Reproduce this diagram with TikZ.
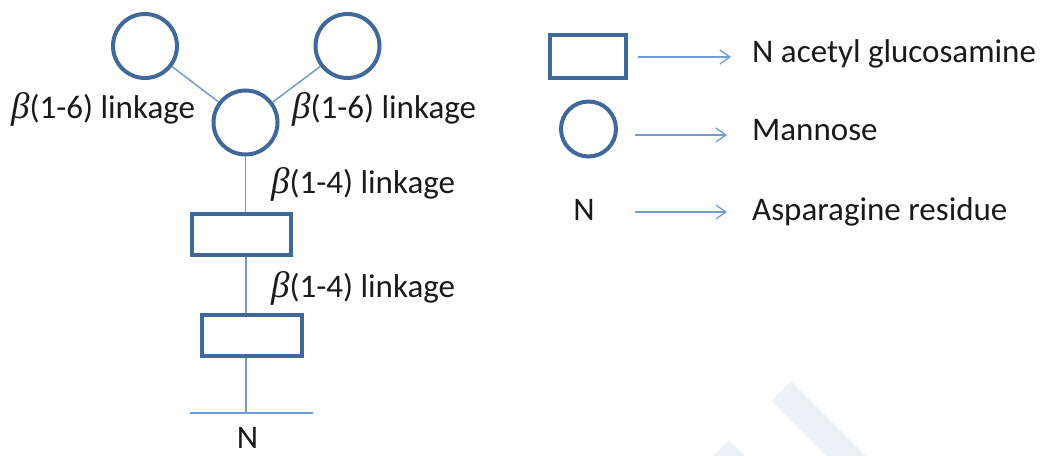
\documentclass[tikz,border=0pt]{standalone}
\usepackage{fontspec}
\setmainfont{Carlito}
\newfontfamily\betafont{Liberation Serif}[Scale=1.12]
\newcommand\bsym{{\betafont\itshape β}}
\usetikzlibrary{arrows.meta}
\definecolor{shapeblue}{HTML}{41689B}
\definecolor{linkblue}{HTML}{729BD1}
\definecolor{markfill}{HTML}{ECF1F8}
\definecolor{ink}{HTML}{1A1A1A}
\begin{document}
\begin{tikzpicture}[x=1pt,y=-1pt,
  sugar/.style={draw=shapeblue,line width=4pt,fill=white,inner sep=0pt},
  mannose/.style={sugar,circle,minimum size=64pt},
  glcnac/.style={sugar,rectangle,minimum width=99pt,minimum height=41pt},
  bond/.style={draw=linkblue,line width=1.5pt},
  key/.style={draw=linkblue,line width=1.3pt,-{Straight Barb[length=10pt,width=14pt]}},
  lbl/.style={text=ink,font=\fontsize{33}{40}\selectfont,inner sep=0pt,anchor=base west}]
\useasboundingbox (0,0) rectangle (1049,455);
% faint background mark
\begin{scope}
  \clip (0,0) rectangle (1049,455);
  \draw[markfill,line width=28pt] (781,391) -- (860,470);
  \draw[markfill,line width=28pt] (719,450) -- (745,476);
\end{scope}

% glycan core
\node[mannose] (m1) at (145,46) {};
\node[mannose] (m2) at (347.5,46) {};
\node[mannose] (m0) at (245.5,122.5) {};
\node[glcnac] (g1) at (241.5,234.5) {};
\node[glcnac,minimum width=100pt] (g2) at (252,335.5) {};
\coordinate (base) at (246,413);
\coordinate (bl) at (190,413);
\coordinate (br) at (313,413);

\draw[bond] (m0) -- (m1);
\draw[bond] (m0) -- (m2);
\draw[bond] (m0.south) -- (m0.south |- g1.north);
\draw[bond] (g1.south -| base) -- (g2.north -| base);
\draw[bond] (g2.south -| base) -- (base);
\draw[bond] (bl) -- (br);

\node[lbl,anchor=base] (asn) at (247.5,448) {N};
\node[lbl] (l16a) at (11,118) {\bsym(1-6) linkage};
\node[lbl] (l16b) at (292,118) {\bsym(1-6) linkage};
\node[lbl] (l14a) at (271,193) {\bsym(1-4) linkage};
\node[lbl] (l14b) at (271,297) {\bsym(1-4) linkage};

% key
\node[glcnac,minimum width=76pt,minimum height=43pt] (kg) at (588,56.5) {};
\node[mannose,minimum size=55pt] (km) at (588.5,129) {};
\node[lbl,anchor=base] (kn) at (584,220) {N};
\node[lbl] (tg) at (752,62) {N acetyl glucosamine};
\node[lbl] (tm) at (752,140) {Mannose};
\node[lbl] (ta) at (752,220) {Asparagine residue};
\coordinate (k1s) at (638,57);
\coordinate (k1e) at (731,57);
\coordinate (k2s) at (635,135);
\coordinate (k2e) at (727,135);
\coordinate (k3s) at (635,212);
\coordinate (k3e) at (727,212);
\draw[key] (k1s) -- (k1e);
\draw[key] (k2s) -- (k2e);
\draw[key] (k3s) -- (k3e);
\end{tikzpicture}
\end{document}
